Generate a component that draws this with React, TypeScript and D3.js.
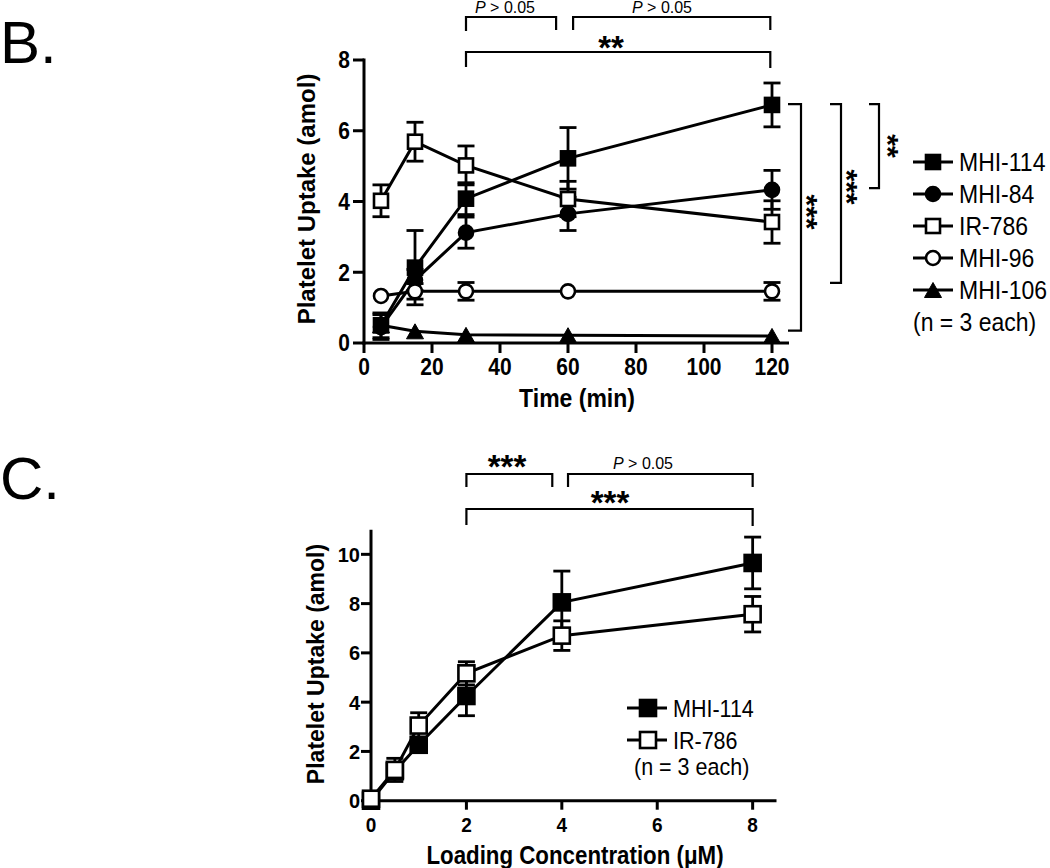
import React from "react";
import * as d3 from "d3";

// ---------- Panel B data ----------
const timesB = [5, 15, 30, 60, 120];
const namesB = ["MHI-114", "MHI-84", "IR-786", "MHI-96", "MHI-106"];
const mhi114B = [0.5, 2.13, 4.08, 5.22, 6.73];
const mhi114BErr = [0.35, 1.05, 0.45, 0.87, 0.62];
const mhi84B = [0.45, 1.78, 3.12, 3.65, 4.33];
const mhi84BErr = [0.35, 0.3, 0.44, 0.47, 0.55];
const ir786B = [4.02, 5.69, 5.02, 4.07, 3.42];
const ir786BErr = [0.45, 0.55, 0.55, 0.5, 0.6];
const mhi96B = [1.33, 1.46, 1.46, 1.46, 1.46];
const mhi96BErr = [0.05, 0.22, 0.25, 0.05, 0.25];
const mhi106B = [0.5, 0.33, 0.23, 0.22, 0.2];
const mhi106BErr = [0.05, 0.05, 0.05, 0.05, 0.05];
const xTicksB = [0, 20, 40, 60, 80, 100, 120];
const yTicksB = [0, 2, 4, 6, 8];

// ---------- Panel C data ----------
const concC = [0, 0.5, 1, 2, 4, 8];
const namesC = ["MHI-114", "IR-786"];
const mhi114C = [0, 1.2, 2.27, 4.25, 8.05, 9.65];
const mhi114CErr = [0, 0.3, 0.3, 0.8, 1.27, 1.05];
const ir786C = [0.08, 1.25, 3.05, 5.17, 6.7, 7.57];
const ir786CErr = [0, 0.47, 0.52, 0.47, 0.6, 0.72];
const xTicksC = [0, 2, 4, 6, 8];
const yTicksC = [0, 2, 4, 6, 8, 10];

const FF = "'Liberation Sans', Arial, Helvetica, sans-serif";

type Shape = "square" | "circle" | "triangle";

function Marker({ shape, filled, cx, cy, s }: { shape: Shape; filled: boolean; cx: number; cy: number; s: number }) {
  const fill = filled ? "#000" : "#fff";
  if (shape === "square")
    return <rect x={cx - s / 2} y={cy - s / 2} width={s} height={s} fill={fill} stroke="#000" strokeWidth={2.6} />;
  if (shape === "circle") return <circle cx={cx} cy={cy} r={s / 2} fill={fill} stroke="#000" strokeWidth={2.6} />;
  const w = s + 3, h = s + 1;
  return (
    <path
      d={`M${cx},${cy - h / 2}L${cx + w / 2},${cy + h / 2}L${cx - w / 2},${cy + h / 2}Z`}
      fill={fill}
      stroke="#000"
      strokeWidth={1}
    />
  );
}

function T({
  x, y, fs, sy = 1, anchor = "middle", weight = "bold", children, rotate = 0,
}: { x: number; y: number; fs: number; sy?: number; anchor?: string; weight?: string; children: any; rotate?: number }) {
  return (
    <text
      transform={`translate(${x},${y}) rotate(${rotate}) scale(1,${sy})`}
      fontSize={fs}
      fontFamily={FF}
      fontWeight={weight}
      textAnchor={anchor as any}
      fill="#000"
    >
      {children}
    </text>
  );
}

function Stars({ cx, cy, n, fs, rotate = 0 }: { cx: number; cy: number; n: number; fs: number; rotate?: number }) {
  return (
    <g transform={`translate(${cx},${cy}) rotate(${rotate})`}>
      <text y={0.43 * fs} fontSize={fs} fontFamily={FF} fontWeight="bold" textAnchor="middle">
        {"*".repeat(n)}
      </text>
    </g>
  );
}

function PText({ cx, base, fs }: { cx: number; base: number; fs: number }) {
  return (
    <text x={cx} y={base} fontSize={fs} fontFamily={FF} textAnchor="middle">
      <tspan fontStyle="italic">P</tspan>
      {" > 0.05"}
    </text>
  );
}

function HBracket({ x1, x2, y, y1b, y2b }: { x1: number; x2: number; y: number; y1b: number; y2b: number }) {
  return <path d={`M${x1},${y1b}V${y}H${x2}V${y2b}`} fill="none" stroke="#000" strokeWidth={2.2} />;
}

function VBracket({ x, y1, y2, xl }: { x: number; y1: number; y2: number; xl: number }) {
  return <path d={`M${xl},${y1}H${x}V${y2}H${xl}`} fill="none" stroke="#000" strokeWidth={2.2} />;
}

interface Series { name: string; shape: Shape; filled: boolean; vals: number[]; errs: number[] }

function SeriesMarks({ xs, s, x, y, size }: { xs: number[]; s: Series; x: any; y: any; size: number }) {
  const line = d3.line<number>().x((_, i) => x(xs[i])).y((v) => y(v));
  return (
    <g>
      <path d={line(s.vals) || ""} fill="none" stroke="#000" strokeWidth={3} />
      {s.vals.map((v, i) => {
        const e = s.errs[i];
        if (!e || e < 0.08) return null;
        const cx = x(xs[i]);
        return (
          <g key={i} stroke="#000" strokeWidth={2.8}>
            <line x1={cx} x2={cx} y1={y(v - e)} y2={y(v + e)} />
            <line x1={cx - 8.5} x2={cx + 8.5} y1={y(v + e)} y2={y(v + e)} />
            <line x1={cx - 8.5} x2={cx + 8.5} y1={y(v - e)} y2={y(v - e)} />
          </g>
        );
      })}
      {s.vals.map((v, i) => (
        <Marker key={"m" + i} shape={s.shape} filled={s.filled} cx={x(xs[i])} cy={y(v)} s={size} />
      ))}
    </g>
  );
}

export default function App() {
  // Panel B scales
  const xB = d3.scaleLinear().domain([0, 125]).range([364, 789]);
  const yB = d3.scaleLinear().domain([0, 8]).range([343, 60]);
  // Panel C scales
  const xC = d3.scaleLinear().domain([0, 8.5]).range([371, 776.5]);
  const yC = d3.scaleLinear().domain([0, 11]).range([800.7, 529.7]);

  const seriesB: Series[] = [
    { name: namesB[0], shape: "square", filled: true, vals: mhi114B, errs: mhi114BErr },
    { name: namesB[1], shape: "circle", filled: true, vals: mhi84B, errs: mhi84BErr },
    { name: namesB[2], shape: "square", filled: false, vals: ir786B, errs: ir786BErr },
    { name: namesB[3], shape: "circle", filled: false, vals: mhi96B, errs: mhi96BErr },
    { name: namesB[4], shape: "triangle", filled: true, vals: mhi106B, errs: mhi106BErr },
  ];
  const seriesC: Series[] = [
    { name: namesC[0], shape: "square", filled: true, vals: mhi114C, errs: mhi114CErr },
    { name: namesC[1], shape: "square", filled: false, vals: ir786C, errs: ir786CErr },
  ];

  const axisW = 3;

  return (
    <svg
      width={1050}
      height={868}
      style={{ position: "absolute", left: 0, top: 0, background: "#fff" }}
      xmlns="http://www.w3.org/2000/svg"
    >
      <rect width={1050} height={868} fill="#fff" />
      {/* Panel letters */}
      <T x={0} y={63} fs={60} anchor="start" weight="normal">B.</T>
      <T x={0} y={499} fs={60} anchor="start" weight="normal">C.</T>

      {/* ===== Panel B ===== */}
      <g>
        {/* axes */}
        <line x1={xB(0)} x2={xB(0)} y1={yB(8) - 1.5} y2={yB(0) + 1.5} stroke="#000" strokeWidth={axisW} />
        <line x1={xB(0) - 1.5} x2={xB(125)} y1={yB(0)} y2={yB(0)} stroke="#000" strokeWidth={axisW} />
        {yTicksB.map((t) => (
          <g key={"yb" + t}>
            <line x1={xB(0) - 11} x2={xB(0)} y1={yB(t)} y2={yB(t)} stroke="#000" strokeWidth={axisW} />
            <T x={350} y={yB(t) + 8.3} fs={21} sy={1.1} anchor="end">{t}</T>
          </g>
        ))}
        {xTicksB.map((t) => (
          <g key={"xb" + t}>
            <line x1={xB(t)} x2={xB(t)} y1={yB(0)} y2={yB(0) + 10} stroke="#000" strokeWidth={axisW} />
            <T x={xB(t)} y={375} fs={21} sy={1.15}>{t}</T>
          </g>
        ))}
        <T x={577} y={407} fs={23} sy={1.1}>Time (min)</T>
        <g transform={`translate(306,199) rotate(-90)`}>
          <text y={8.6} fontSize={24} fontFamily={FF} fontWeight="bold" textAnchor="middle">
            Platelet Uptake (amol)
          </text>
        </g>

        {seriesB.map((s) => (
          <SeriesMarks key={s.name} xs={timesB} s={s} x={xB} y={yB} size={14} />
        ))}

        {/* top brackets */}
        <HBracket x1={xB(30)} x2={xB(56.5)} y={17} y1b={31} y2b={30} />
        <PText cx={505} base={13} fs={16} />
        <HBracket x1={xB(61.5)} x2={xB(119.5)} y={17} y1b={30} y2b={30} />
        <PText cx={662} base={13} fs={16} />
        <HBracket x1={xB(30)} x2={xB(119.5)} y={52} y1b={67} y2b={68} />
        <Stars cx={611} cy={45} n={2} fs={33} />

        {/* right brackets */}
        <VBracket x={801} xl={788} y1={yB(6.75)} y2={yB(0.35)} />
        <Stars cx={810} cy={212} n={3} fs={30} rotate={90} />
        <VBracket x={841} xl={830} y1={yB(6.75)} y2={yB(1.7)} />
        <Stars cx={850} cy={187} n={3} fs={30} rotate={90} />
        <VBracket x={879} xl={869} y1={yB(6.75)} y2={yB(4.38)} />
        <Stars cx={891} cy={146} n={2} fs={30} rotate={90} />

        {/* legend */}
        {seriesB.map((s, i) => {
          const cy = 162 + 32 * i;
          return (
            <g key={"lb" + i}>
              <line x1={913} x2={953} y1={cy} y2={cy} stroke="#000" strokeWidth={3} />
              <Marker shape={s.shape} filled={s.filled} cx={933} cy={cy} s={14} />
              <T x={959} y={cy + 9} fs={23} sy={1.1} anchor="start" weight="normal">{s.name}</T>
            </g>
          );
        })}
        <T x={913} y={322 + 9} fs={23} sy={1.1} anchor="start" weight="normal">(n = 3 each)</T>
      </g>

      {/* ===== Panel C ===== */}
      <g>
        <line x1={xC(0)} x2={xC(0)} y1={yC(11)} y2={yC(0) + 1.5} stroke="#000" strokeWidth={axisW} />
        <line x1={xC(0) - 1.5} x2={xC(8.5)} y1={yC(0)} y2={yC(0)} stroke="#000" strokeWidth={axisW} />
        {yTicksC.map((t) => (
          <g key={"yc" + t}>
            <line x1={xC(0) - 10} x2={xC(0)} y1={yC(t)} y2={yC(t)} stroke="#000" strokeWidth={axisW} />
            <T x={360} y={yC(t) + 7.5} fs={20} sy={1.05} anchor="end">{t}</T>
          </g>
        ))}
        {xTicksC.map((t) => (
          <g key={"xc" + t}>
            <line x1={xC(t)} x2={xC(t)} y1={yC(0)} y2={yC(0) + 9} stroke="#000" strokeWidth={axisW} />
            <T x={xC(t)} y={832} fs={19} sy={1.05}>{t}</T>
          </g>
        ))}
        <T x={575} y={864} fs={22.3} sy={1.15}>Loading Concentration (μM)</T>
        <g transform={`translate(315.5,664) rotate(-90)`}>
          <text y={8.2} fontSize={23} fontFamily={FF} fontWeight="bold" textAnchor="middle">
            Platelet Uptake (amol)
          </text>
        </g>

        {seriesC.map((s) => (
          <SeriesMarks key={s.name} xs={concC} s={s} x={xC} y={yC} size={16} />
        ))}

        {/* brackets */}
        <HBracket x1={xC(2)} x2={xC(3.8)} y={474} y1b={487} y2b={487} />
        <Stars cx={507} cy={464} n={3} fs={33} />
        <HBracket x1={xC(4.13)} x2={xC(8)} y={474} y1b={487} y2b={487} />
        <PText cx={643} base={469} fs={16} />
        <HBracket x1={xC(2)} x2={xC(8)} y={509} y1b={525} y2b={526} />
        <Stars cx={610} cy={500} n={3} fs={33} />

        {/* legend */}
        {seriesC.map((s, i) => {
          const cy = 708 + 32 * i;
          return (
            <g key={"lc" + i}>
              <line x1={627} x2={667} y1={cy} y2={cy} stroke="#000" strokeWidth={3} />
              <Marker shape={s.shape} filled={s.filled} cx={648} cy={cy} s={16} />
              <T x={673} y={cy + 8.5} fs={21.5} sy={1.1} anchor="start" weight="normal">{s.name}</T>
            </g>
          );
        })}
        <T x={634} y={766 + 8.5} fs={21.5} sy={1.1} anchor="start" weight="normal">(n = 3 each)</T>
      </g>
    </svg>
  );
}
